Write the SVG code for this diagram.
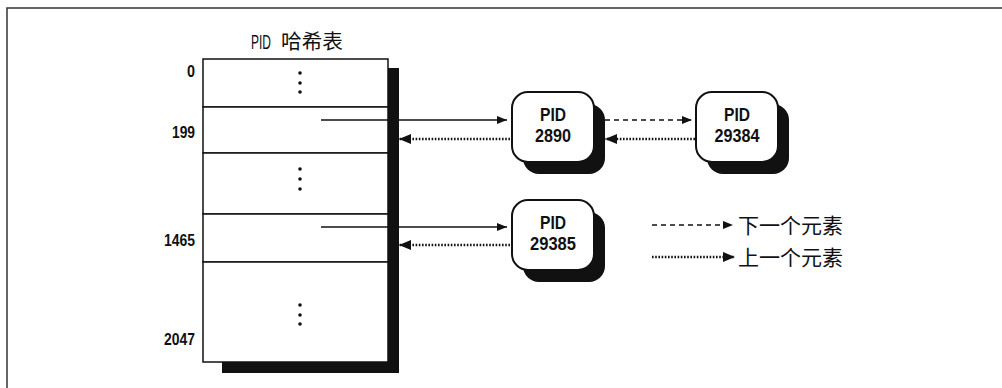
<svg xmlns="http://www.w3.org/2000/svg" width="1002" height="388" viewBox="0 0 1002 388">
  <style>
    .frame { fill: none; stroke: #333; stroke-width: 1.5; }
    .cell { fill: #fff; stroke: #111; stroke-width: 1.5; }
    .shadow { fill: #111; }
    .dot { fill: #111; }
    .idx { font-family: "Liberation Sans Narrow", "Liberation Sans", sans-serif; font-size: 17px; font-weight: bold; fill: #111; text-anchor: end; }
    .title { font-family: "Liberation Sans Narrow", "Liberation Sans", sans-serif; font-size: 20px; fill: #111; }
    .title-cjk { font-family: "Noto Sans CJK SC", sans-serif; font-size: 20px; fill: #111; }
    .node-box { fill: #fff; stroke: #111; stroke-width: 2; }
    .node-text { font-family: "Liberation Sans Narrow", "Liberation Sans", sans-serif; font-size: 18px; font-weight: bold; fill: #111; text-anchor: middle; }
    .legend { font-family: "Noto Sans CJK SC", sans-serif; font-size: 21px; fill: #111; }
    .solid { stroke: #111; stroke-width: 1.5; fill: none; }
    .dashed { stroke: #111; stroke-width: 1.5; fill: none; stroke-dasharray: 5 4; }
    .dotted { stroke: #111; stroke-width: 2.5; fill: none; stroke-dasharray: 1.6 1.6; }
  </style>
  <defs>
    <marker id="head" viewBox="0 0 10 8" refX="10" refY="4" markerWidth="10" markerHeight="8" markerUnits="userSpaceOnUse" orient="auto">
      <path d="M0,0 L10,4 L0,8 Z" fill="#111"/>
    </marker>
    <marker id="head-big" viewBox="0 0 12 10" refX="12" refY="5" markerWidth="12" markerHeight="10" markerUnits="userSpaceOnUse" orient="auto">
      <path d="M0,0 L12,5 L0,10 Z" fill="#111"/>
    </marker>
  </defs>

  <!-- page frame -->
  <path class="frame" d="M7,388 L7,8 L1002,8"/>

  <!-- PID hash table -->
  <g id="hash-table">
    <text class="title" x="251" y="49" textLength="20" lengthAdjust="spacingAndGlyphs">PID</text>
    <text class="title-cjk" x="281" y="49" textLength="62" lengthAdjust="spacingAndGlyphs">哈希表</text>
    <path class="shadow" d="M388,68 L399,68 L399,373 L222,373 L222,362 L388,362 Z"/>
    <rect class="cell" x="203" y="59" width="185" height="48"/>
    <rect class="cell" x="203" y="107" width="185" height="46"/>
    <rect class="cell" x="203" y="153" width="185" height="61"/>
    <rect class="cell" x="203" y="214" width="185" height="48"/>
    <rect class="cell" x="203" y="262" width="185" height="100"/>
    <circle class="dot" cx="300" cy="73" r="1.8"/>
    <circle class="dot" cx="300" cy="83" r="1.8"/>
    <circle class="dot" cx="300" cy="92" r="1.8"/>
    <circle class="dot" cx="300" cy="169" r="1.8"/>
    <circle class="dot" cx="300" cy="179" r="1.8"/>
    <circle class="dot" cx="300" cy="189" r="1.8"/>
    <circle class="dot" cx="300" cy="305" r="1.8"/>
    <circle class="dot" cx="300" cy="315" r="1.8"/>
    <circle class="dot" cx="300" cy="324" r="1.8"/>
    <text class="idx" x="195" y="77" textLength="8" lengthAdjust="spacingAndGlyphs">0</text>
    <text class="idx" x="195" y="138" textLength="23" lengthAdjust="spacingAndGlyphs">199</text>
    <text class="idx" x="195" y="246" textLength="31" lengthAdjust="spacingAndGlyphs">1465</text>
    <text class="idx" x="195" y="345" textLength="31" lengthAdjust="spacingAndGlyphs">2047</text>
  </g>

  <!-- process nodes -->
  <g id="node-2890">
    <rect class="shadow" x="523" y="104" width="82" height="70" rx="16"/>
    <rect class="node-box" x="512" y="92" width="82" height="70" rx="16"/>
    <text class="node-text" x="553" y="121" textLength="26" lengthAdjust="spacingAndGlyphs">PID</text>
    <text class="node-text" x="553" y="142" textLength="36" lengthAdjust="spacingAndGlyphs">2890</text>
  </g>
  <g id="node-29384">
    <rect class="shadow" x="707" y="104" width="82" height="70" rx="16"/>
    <rect class="node-box" x="696" y="92" width="82" height="70" rx="16"/>
    <text class="node-text" x="737" y="121" textLength="26" lengthAdjust="spacingAndGlyphs">PID</text>
    <text class="node-text" x="737" y="142" textLength="45" lengthAdjust="spacingAndGlyphs">29384</text>
  </g>
  <g id="node-29385">
    <rect class="shadow" x="523" y="212" width="82" height="70" rx="16"/>
    <rect class="node-box" x="512" y="200" width="82" height="70" rx="16"/>
    <text class="node-text" x="553" y="229" textLength="26" lengthAdjust="spacingAndGlyphs">PID</text>
    <text class="node-text" x="553" y="250" textLength="46" lengthAdjust="spacingAndGlyphs">29385</text>
  </g>

  <!-- connectors -->
  <g id="connectors">
    <line class="solid" x1="321" y1="120" x2="507" y2="120" marker-end="url(#head)"/>
    <line class="dotted" x1="510" y1="139" x2="399" y2="139" marker-end="url(#head-big)"/>
    <line class="dashed" x1="605" y1="120" x2="692" y2="120" marker-end="url(#head)"/>
    <line class="dotted" x1="695" y1="139" x2="605" y2="139" marker-end="url(#head-big)"/>
    <line class="solid" x1="321" y1="227" x2="507" y2="227" marker-end="url(#head)"/>
    <line class="dotted" x1="510" y1="245" x2="399" y2="245" marker-end="url(#head-big)"/>
  </g>

  <!-- legend -->
  <g id="legend">
    <line class="dashed" x1="652" y1="225" x2="733" y2="225" marker-end="url(#head)"/>
    <text class="legend" x="738" y="233">下一个元素</text>
    <line class="dotted" x1="652" y1="257" x2="735" y2="257" marker-end="url(#head-big)"/>
    <text class="legend" x="738" y="265">上一个元素</text>
  </g>
</svg>
